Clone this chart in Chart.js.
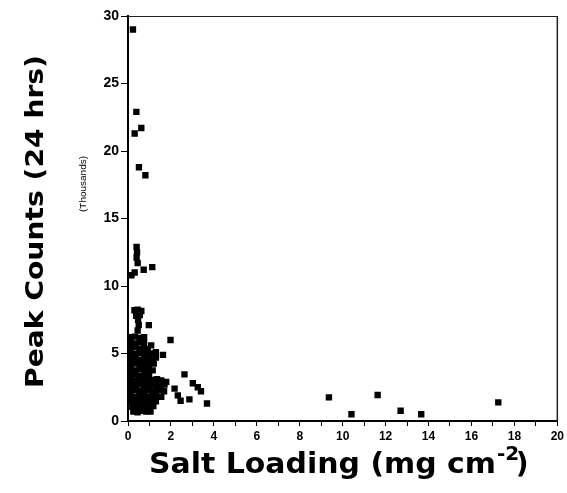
<!DOCTYPE html>
<html><head><meta charset="utf-8">
<script src="https://cdn.jsdelivr.net/npm/chart.js@4"></script>
<style>html,body{margin:0;padding:0;background:#fff}#wrap{width:567px;height:493px;position:relative}</style>
</head><body><div id="wrap"><canvas id="c" width="567" height="493"></canvas></div>
<script>
// Salt loading (mg cm-2)
const saltLoading = [
 0.23,0.39,0.31,0.62,0.51,0.81,
 0.40,0.42,0.40,0.45,0.16,0.31,0.73,1.13,
 0.30,0.45,0.62,0.38,0.55,0.47,0.50,0.45,0.97,1.08,1.98,1.63,
 0.13,0.33,0.55,0.75,
 0.12,0.35,0.55,0.75,
 0.13,0.33,0.55,0.75,0.92,
 0.12,0.33,0.55,0.77,0.96,1.15,1.30,
 0.13,0.35,0.55,0.75,0.96,1.15,1.30,
 0.12,0.33,0.55,0.77,0.96,1.20,
 0.13,0.35,0.55,0.75,0.96,1.15,
 0.12,0.33,0.55,0.77,0.98,
 0.13,0.35,0.55,0.75,0.96,1.15,1.35,1.55,1.78,
 0.12,0.33,0.55,0.77,0.96,1.15,1.30,1.50,1.70,
 0.13,0.35,0.55,0.75,0.96,1.15,1.30,1.50,1.68,
 0.12,0.33,0.55,0.77,0.96,1.15,1.30,1.55,
 0.15,0.35,0.55,0.75,0.96,1.15,1.30,
 0.20,0.38,0.58,0.78,0.98,1.18,
 0.25,0.45,0.65,0.85,1.05,
 2.63,3.02,3.25,3.40,3.68,2.86,2.17,2.32,2.45,
 9.36,10.41,11.63,12.70,13.66,17.25
];
// Peak counts over 24 hrs (thousands)
const peakCounts = [
 29.0,22.9,21.3,21.7,18.8,18.2,
 12.9,12.5,12.1,11.7,10.8,11.0,11.2,11.4,
 8.2,8.25,8.15,7.8,7.85,7.5,7.1,6.7,7.1,5.6,6.0,4.9,
 6.2,6.25,6.15,6.2,
 5.8,5.75,5.85,5.8,
 5.4,5.45,5.35,5.4,5.3,
 5.0,4.95,5.05,5.0,4.9,5.0,5.1,
 4.6,4.65,4.55,4.6,4.6,4.55,4.7,
 4.2,4.25,4.15,4.2,4.2,4.25,
 3.8,3.75,3.85,3.8,3.8,3.75,
 3.4,3.45,3.35,3.4,3.4,
 3.05,3.0,3.1,3.05,3.0,3.05,3.1,3.0,2.9,
 2.65,2.6,2.7,2.65,2.6,2.7,2.65,2.6,2.7,
 2.25,2.3,2.2,2.25,2.3,2.2,2.25,2.3,2.2,
 1.85,1.8,1.9,1.85,1.8,1.9,1.85,1.8,
 1.45,1.4,1.5,1.45,1.4,1.5,1.45,
 1.05,1.0,1.1,1.05,1.0,1.1,
 0.7,0.65,0.75,0.7,0.7,
 3.45,2.8,2.5,2.2,1.3,1.6,2.4,1.9,1.5,
 1.75,0.5,1.93,0.76,0.5,1.38
];
const xTickLabels = [0,2,4,6,8,10,12,14,16,18,20];
const yTickLabels = [0,5,10,15,20,25,30];
const yTitle = 'Peak Counts (24 hrs)';
const ySubTitle = '(Thousands)';
const xTitleMain = 'Salt Loading (mg cm';
const xTitleSup = '-2';
const xTitleEnd = ' )';

const points = saltLoading.map((x, i) => ({x: x, y: peakCounts[i]}));

function stretchText(ctx, text, x, y, targetW) {
  const w = ctx.measureText(text).width;
  ctx.save();
  ctx.translate(x, y);
  ctx.scale(targetW / w, 1);
  ctx.fillText(text, 0, 0);
  ctx.restore();
}

const framePlugin = {
  id: 'frame',
  afterDraw(chart) {
    const ctx = chart.ctx, a = chart.chartArea;
    ctx.save();
    ctx.strokeStyle = '#222';
    ctx.lineWidth = 1;
    ctx.beginPath(); ctx.moveTo(a.left, a.top + 0.5); ctx.lineTo(a.right, a.top + 0.5); ctx.stroke();
    ctx.lineWidth = 1.5;
    ctx.beginPath(); ctx.moveTo(a.right, a.top); ctx.lineTo(a.right, a.bottom); ctx.stroke();
    ctx.fillStyle = '#000';
    // y title (rotated)
    ctx.save();
    ctx.translate(43, 388);
    ctx.rotate(-Math.PI / 2);
    ctx.font = 'bold 25px "DejaVu Sans"';
    ctx.textAlign = 'left'; ctx.textBaseline = 'alphabetic';
    stretchText(ctx, yTitle, 0, 0, 333);
    ctx.restore();
    // subtitle (Thousands)
    ctx.save();
    ctx.translate(86, 212);
    ctx.rotate(-Math.PI / 2);
    ctx.font = '9px "Liberation Sans Narrow", "Liberation Sans"';
    ctx.textAlign = 'left'; ctx.textBaseline = 'alphabetic';
    stretchText(ctx, ySubTitle, 0, 0, 56);
    ctx.restore();
    // x title
    ctx.font = 'bold 28px "DejaVu Sans"';
    ctx.textAlign = 'left'; ctx.textBaseline = 'alphabetic';
    stretchText(ctx, xTitleMain, 149, 473, 347);
    ctx.font = 'bold 20px "DejaVu Sans"';
    ctx.fillText(xTitleSup, 497, 460);
    ctx.font = 'bold 28px "DejaVu Sans"';
    ctx.fillText(xTitleEnd, 506, 473);
    ctx.restore();
  }
};

new Chart(document.getElementById('c'), {
  type: 'scatter',
  data: {
    datasets: [{
      data: points,
      pointStyle: 'rect',
      pointRadius: 4.5,
      pointHoverRadius: 4.5,
      backgroundColor: '#000',
      borderColor: '#000',
      borderWidth: 0
    }]
  },
  options: {
    responsive: false,
    animation: false,
    devicePixelRatio: 1,
    layout: { padding: { top: 16, right: 7, left: 0, bottom: 0 } },
    plugins: { legend: { display: false }, tooltip: { enabled: false } },
    scales: {
      x: {
        type: 'linear', min: 0, max: 20,
        afterFit(s) { s.height = 72; },
        ticks: {
          stepSize: 1, autoSkip: false, maxRotation: 0, padding: 3, color: '#000',
          font: { family: '"Liberation Sans", Arial', size: 12, weight: 'bold' },
          callback: v => xTickLabels.includes(v) ? String(v) : ''
        },
        grid: { drawOnChartArea: false, drawTicks: true, tickLength: 5, color: '#000', lineWidth: 1 },
        border: { display: true, color: '#000', width: 2 }
      },
      y: {
        min: 0, max: 30,
        afterFit(s) { s.width = 128; },
        ticks: {
          stepSize: 5, padding: 2, color: '#000',
          font: { family: '"Liberation Sans", Arial', size: 14, weight: 'bold' },
          callback: v => yTickLabels.includes(v) ? String(v) : ''
        },
        grid: { drawOnChartArea: false, drawTicks: true, tickLength: 7, color: '#000', lineWidth: 1 },
        border: { display: true, color: '#000', width: 2 }
      }
    }
  },
  plugins: [framePlugin]
});
</script>
</body></html>
